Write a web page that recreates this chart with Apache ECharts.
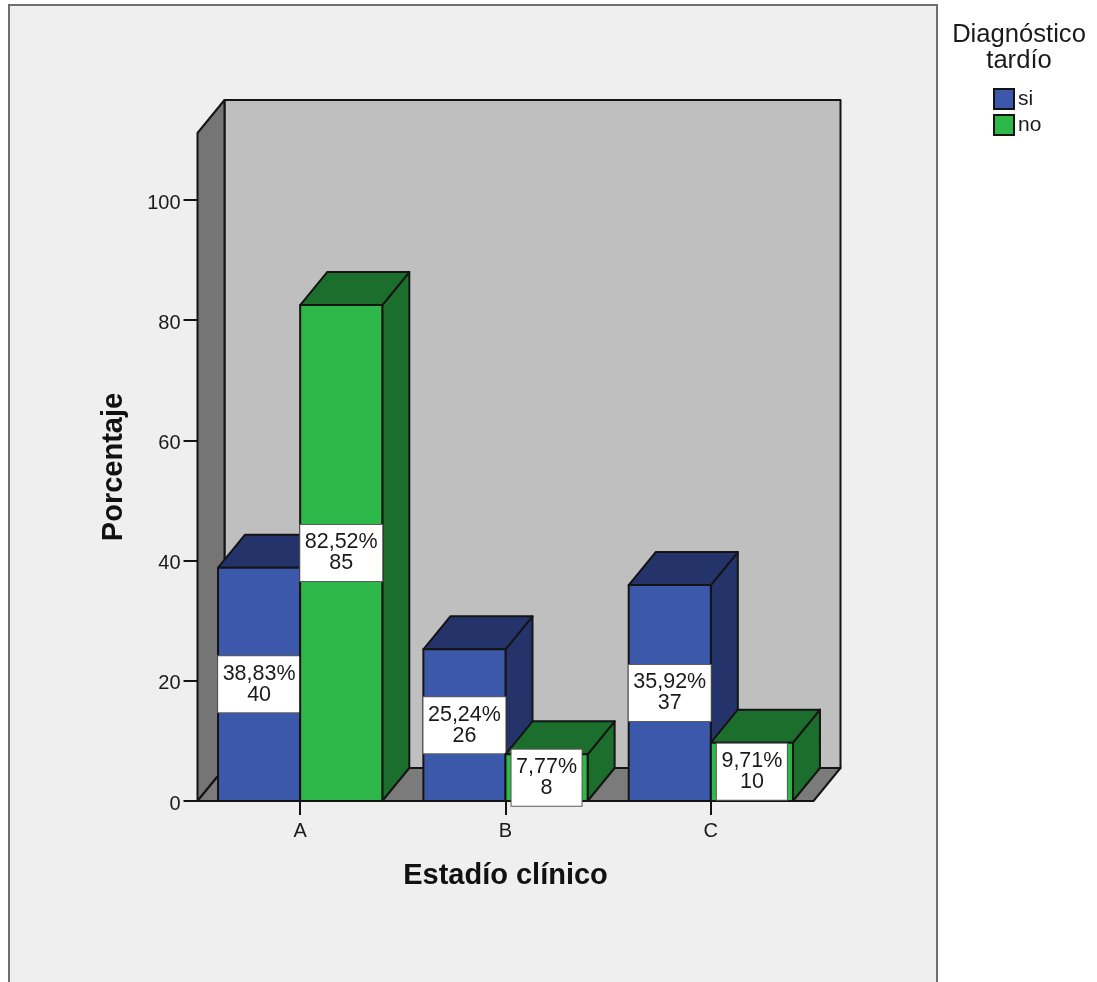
<!DOCTYPE html>
<html>
<head>
<meta charset="utf-8">
<style>html,body{margin:0;padding:0;background:#fff}#chart{width:1097px;height:982px}</style>
<script src="https://cdn.jsdelivr.net/npm/echarts@6/dist/echarts.min.js"></script>
</head>
<body>
<div id="chart"></div>
<script>
const categories = ['A', 'B', 'C'];
const siPercent = [38.83, 25.24, 35.92];
const noPercent = [82.52, 7.77, 9.71];
const siCount = [40, 26, 37];
const noCount = [85, 8, 10];
const yTicks = [0, 20, 40, 60, 80, 100];
const yTop = 111.15;

const FONT = '"Liberation Sans", Arial, sans-serif';
const DEPTH_X = 27, DEPTH_Y = -33;
const EDGE = '#141414';

const chart = echarts.init(document.getElementById('chart'), null, { renderer: 'canvas' });

function poly(points, fill) {
  return {
    type: 'polygon',
    shape: { points: points },
    style: { fill: fill, stroke: EDGE, lineWidth: 2, lineJoin: 'round' }
  };
}

// Back wall, side wall and floor of the 3D box behind the bars.
function renderWalls(params, api) {
  const band = api.size([1, 0])[0];
  const base = api.coord([0, 0]);
  const top = api.coord([0, yTop]);
  const x0 = base[0] - band / 2;
  const x1 = x0 + band * categories.length;
  const y0 = base[1], y1 = top[1];
  const dx = DEPTH_X, dy = DEPTH_Y;
  return {
    type: 'group',
    children: [
      poly([[x0 + dx, y1 + dy], [x1 + dx, y1 + dy], [x1 + dx, y0 + dy], [x0 + dx, y0 + dy]], '#bfbfbf'),
      poly([[x0, y1], [x0 + dx, y1 + dy], [x0 + dx, y0 + dy], [x0, y0]], '#757575'),
      poly([[x0, y0], [x0 + dx, y0 + dy], [x1 + dx, y0 + dy], [x1, y0]], '#7b7b7b')
    ]
  };
}

// One extruded bar with its percentage and count box.
function barRenderer(offset, front, shade) {
  return function (params, api) {
    const band = api.size([1, 0])[0];
    const w = band * 0.4;
    const val = api.value(1);
    const c = api.coord([api.value(0), val]);
    const b = api.coord([api.value(0), 0]);
    const xl = c[0] + offset * w, xr = xl + w;
    const yt = c[1], yb = b[1];
    const dx = DEPTH_X, dy = DEPTH_Y;
    const text = val.toFixed(2).replace('.', ',') + '%\n' + api.value(2);
    return {
      type: 'group',
      children: [
        poly([[xr, yt], [xr + dx, yt + dy], [xr + dx, yb + dy], [xr, yb]], shade),
        poly([[xl, yt], [xl + dx, yt + dy], [xr + dx, yt + dy], [xr, yt]], shade),
        poly([[xl, yt], [xr, yt], [xr, yb], [xl, yb]], front),
        {
          type: 'text',
          z2: 10,
          style: {
            x: xl + w / 2,
            y: (yt + yb) / 2,
            text: text,
            align: 'center',
            verticalAlign: 'middle',
            font: '21.5px ' + FONT,
            lineHeight: 21,
            fill: '#1a1a1a',
            backgroundColor: '#ffffff',
            borderColor: '#5c5c5c',
            borderWidth: 1,
            padding: [11, 4.5, 3, 4.5]
          }
        }
      ]
    };
  };
}

function rows(values, counts) {
  return categories.map((_, i) => [i, values[i], counts[i]]);
}

chart.setOption({
  animation: false,
  backgroundColor: '#ffffff',
  graphic: [{
    type: 'rect',
    z: -10,
    shape: { x: 9, y: 5, width: 928, height: 1000 },
    style: { fill: '#efefef', stroke: '#6e6e6e', lineWidth: 2 }
  }],
  title: {
    text: 'Diagnóstico\ntardío',
    left: 1019,
    top: 22,
    padding: 0,
    textAlign: 'center',
    textStyle: {
      fontFamily: FONT,
      fontSize: 25.6,
      fontWeight: 'normal',
      lineHeight: 26,
      color: '#1a1a1a'
    }
  },
  legend: {
    data: ['si', 'no'],
    orient: 'vertical',
    left: 993,
    top: 88,
    padding: 0,
    itemWidth: 20,
    itemHeight: 20,
    itemGap: 4,
    icon: 'rect',
    selectedMode: false,
    textStyle: { fontFamily: FONT, fontSize: 21, color: '#1a1a1a', padding: [0, 0, 0, -1], lineHeight: 20 }
  },
  grid: { left: 197.5, top: 133, width: 616, height: 668 },
  xAxis: {
    type: 'category',
    data: categories,
    name: 'Estadío clínico',
    nameLocation: 'middle',
    nameGap: 60,
    nameTextStyle: { fontFamily: FONT, fontSize: 29, fontWeight: 'bold', color: '#111' },
    axisLine: { show: false },
    axisTick: { show: true, alignWithLabel: true, length: 14, lineStyle: { color: EDGE, width: 2 } },
    axisLabel: { fontFamily: FONT, fontSize: 20, color: '#1a1a1a', margin: 20 }
  },
  yAxis: {
    type: 'value',
    min: 0,
    max: yTop,
    name: 'Porcentaje',
    nameLocation: 'middle',
    nameGap: 69,
    nameTextStyle: { fontFamily: FONT, fontSize: 29, fontWeight: 'bold', color: '#111' },
    splitLine: { show: false },
    axisLine: { show: false },
    axisTick: { show: true, length: 14, customValues: yTicks, lineStyle: { color: EDGE, width: 2 } },
    axisLabel: {
      margin: 17,
      customValues: yTicks,
      formatter: '{t|{value}}',
      rich: { t: { fontFamily: FONT, fontSize: 20, color: '#1a1a1a', padding: [6, 0, 0, 0] } }
    }
  },
  series: [
    {
      type: 'custom',
      name: 'walls',
      silent: true,
      z: 1,
      clip: false,
      renderItem: renderWalls,
      data: [[0, yTop]]
    },
    {
      type: 'custom',
      name: 'si',
      z: 2,
      clip: false,
      renderItem: barRenderer(-1, '#3c58ab', '#24346a'),
      itemStyle: { color: '#3c58ab', borderColor: EDGE, borderWidth: 2 },
      encode: { x: 0, y: 1 },
      data: rows(siPercent, siCount)
    },
    {
      type: 'custom',
      name: 'no',
      z: 3,
      clip: false,
      renderItem: barRenderer(0, '#2eb84a', '#1b6e2b'),
      itemStyle: { color: '#2eb84a', borderColor: EDGE, borderWidth: 2 },
      encode: { x: 0, y: 1 },
      data: rows(noPercent, noCount)
    }
  ]
});
</script>
</body>
</html>
